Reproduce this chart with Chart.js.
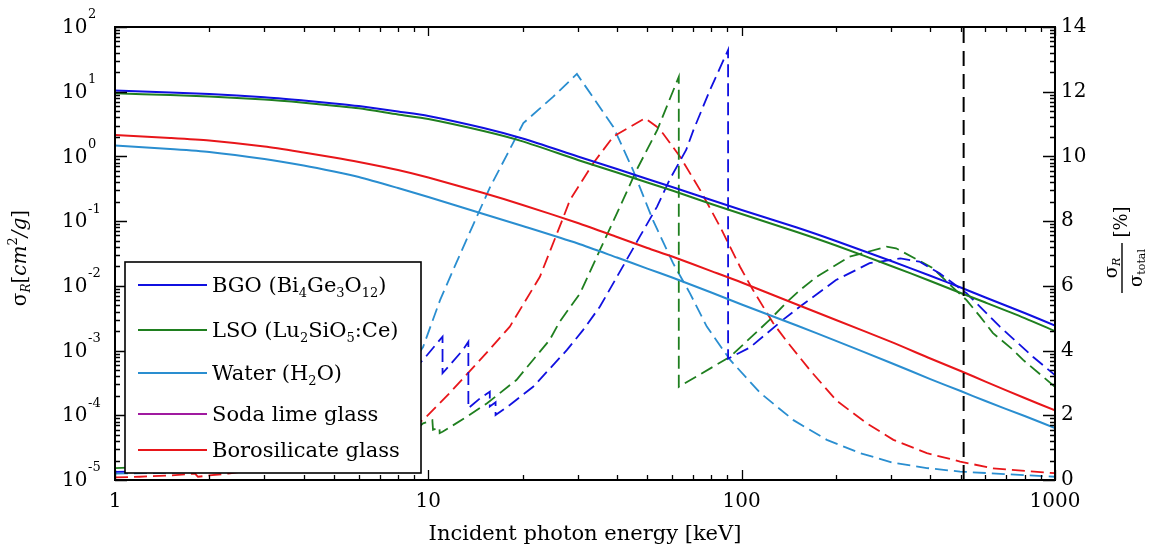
<!DOCTYPE html>
<html>
<head>
<meta charset="utf-8">
<script src="https://cdn.jsdelivr.net/npm/chart.js@4.4.1/dist/chart.umd.min.js"></script>
<style>
    html, body { margin: 0; padding: 0; background: #fff; }
</style>
</head>
<body>
<canvas id="rayleighChart" width="1157" height="549"></canvas>
<script>
const FONT = 'DejaVu Serif';

// Rayleigh cross section sigma_R [cm^2/g] on a common energy grid [keV]
const energyKeV = [1, 1.5, 2, 3, 4, 5, 6, 8, 10, 15, 20, 30, 40, 50, 60, 80, 100, 150, 200, 300, 400, 500, 600, 800, 1000];
const bgoSigma = [10.4, 9.7, 9.2, 8.2, 7.3, 6.6, 6.0, 4.94, 4.22, 2.75, 1.89, 1.0, 0.64, 0.448, 0.337, 0.212, 0.149, 0.0796, 0.0493, 0.0242, 0.0143, 0.00942, 0.0066, 0.0038, 0.00244];
const lsoSigma = [9.45, 8.9, 8.43, 7.58, 6.77, 6.08, 5.54, 4.45, 3.79, 2.47, 1.71, 0.881, 0.564, 0.395, 0.297, 0.184, 0.129, 0.0679, 0.042, 0.0203, 0.0119, 0.00775, 0.00552, 0.00318, 0.0020];
const waterSigma = [1.47, 1.30, 1.17, 0.912, 0.724, 0.585, 0.481, 0.325, 0.236, 0.129, 0.0841, 0.0451, 0.0274, 0.0185, 0.01345, 0.00789, 0.00515, 0.00244, 0.00141, 0.000643, 0.000363, 0.000237, 0.000166, 0.0000973, 0.0000636];
const boroSigma = [2.14, 1.93, 1.76, 1.42, 1.15, 0.962, 0.82, 0.617, 0.472, 0.272, 0.178, 0.0935, 0.0569, 0.0385, 0.0284, 0.0169, 0.01126, 0.00515, 0.00297, 0.00136, 0.000754, 0.000483, 0.000332, 0.000185, 0.000119];

// sigma_R / sigma_total [%], each with its own energies (absorption edges listed twice)
const bgoFracKeV = [1, 1.5, 2, 3, 4, 5, 6, 8, 9.62, 11.1, 11.1, 12.9, 13.42, 13.42, 14.6, 15.71, 15.71, 16.39, 16.39, 18.2, 21.6, 27.7, 31.2, 35.3, 40, 47.3, 53.7, 58.8, 66.5, 70.2, 79.2, 90.5, 90.5, 106.5, 135, 153.6, 200, 256, 321, 369, 428, 522, 667, 850, 1000];
const bgoFracPct = [0.25, 0.3, 0.45, 0.8, 1.2, 1.7, 2.2, 3.0, 3.71, 4.43, 3.30, 4.02, 4.27, 2.22, 2.52, 2.73, 2.27, 2.40, 2.01, 2.32, 2.88, 4.02, 4.64, 5.36, 6.28, 7.52, 8.45, 9.27, 10.20, 10.82, 12.05, 13.29, 3.75, 4.10, 4.94, 5.36, 6.18, 6.70, 6.85, 6.75, 6.39, 5.77, 4.74, 3.81, 3.24];

const lsoFracKeV = [1, 2, 3, 4, 5, 6, 8, 9.2, 9.24, 9.62, 10.3, 10.35, 10.85, 10.87, 11.1, 13.3, 15.4, 19.1, 24.4, 26.2, 30.5, 35.3, 40.9, 46.2, 53.8, 63.0, 63.0, 91.9, 122.5, 141.6, 153.6, 173.5, 221, 290, 311, 407, 470, 522, 577, 634, 735, 791, 1000];
const lsoFracPct = [0.37, 0.45, 0.7, 1.0, 1.3, 1.55, 1.9, 2.1, 1.6, 1.75, 1.85, 1.55, 1.62, 1.45, 1.49, 1.96, 2.37, 3.09, 4.33, 4.88, 5.77, 7.11, 8.45, 9.58, 10.82, 12.46, 2.88, 3.81, 4.94, 5.56, 5.87, 6.28, 6.90, 7.21, 7.16, 6.55, 5.97, 5.56, 5.05, 4.54, 4.02, 3.71, 2.88];

const waterFracKeV = [1, 1.5, 2, 3, 4, 5, 6, 8, 9.62, 10.9, 12.32, 13.89, 15.74, 17.8, 20.1, 25.0, 29.8, 38.9, 45.0, 52.1, 60.4, 68.4, 77.4, 91.9, 114.6, 146.3, 187, 239, 305, 390, 498, 1000];
const waterFracPct = [0.2, 0.22, 0.3, 0.55, 0.9, 1.35, 1.85, 3.0, 4.11, 5.56, 6.74, 7.88, 9.05, 10.04, 11.03, 11.84, 12.55, 10.92, 9.58, 8.03, 6.70, 5.77, 4.74, 3.71, 2.69, 1.85, 1.24, 0.83, 0.53, 0.37, 0.26, 0.10];

const boroFracKeV = [1, 1.2, 1.5, 1.8, 1.84, 2, 2.3, 3, 4, 5, 6, 8, 9.62, 11.7, 14.95, 18.2, 22.7, 26.9, 28.3, 33.6, 38.9, 49.2, 53.6, 56.1, 63.6, 73.7, 85.3, 98.8, 108.7, 126, 139, 165, 201, 251, 305, 390, 498, 634, 1000];
const boroFracPct = [0.08, 0.1, 0.14, 0.2, 0.1, 0.14, 0.2, 0.35, 0.6, 0.85, 1.1, 1.5, 1.85, 2.69, 3.81, 4.74, 6.28, 8.09, 8.65, 9.79, 10.61, 11.18, 10.92, 10.71, 9.99, 8.96, 7.83, 6.59, 5.87, 4.85, 4.3, 3.4, 2.45, 1.75, 1.24, 0.83, 0.57, 0.36, 0.21];

// 511 keV annihilation line
const annihilationKeV = [511, 511];
const annihilationPct = [0, 14];

const xTicks = [1, 10, 100, 1000];
const yLeftPowers = [-5, -4, -3, -2, -1, 0, 1, 2];
const yRightTicks = [0, 2, 4, 6, 8, 10, 12, 14];

const colors = {
    bgo: '#1010e0',
    lso: '#1f7f1f',
    water: '#2a8ed0',
    soda: '#a01aa0',
    boro: '#e8161a',
};

// legend rows: [text, subscript?] pieces
const legendRows = [
    { color: colors.bgo, parts: [['BGO (Bi', 0], ['4', 1], ['Ge', 0], ['3', 1], ['O', 0], ['12', 1], [')', 0]] },
    { color: colors.lso, parts: [['LSO (Lu', 0], ['2', 1], ['SiO', 0], ['5', 1], [':Ce)', 0]] },
    { color: colors.water, parts: [['Water (H', 0], ['2', 1], ['O)', 0]] },
    { color: colors.soda, parts: [['Soda lime glass', 0]] },
    { color: colors.boro, parts: [['Borosilicate glass', 0]] },
];

const pts = (xs, ys) => xs.map((x, i) => ({ x: x, y: ys[i] }));

function solidLine(label, ys, color) {
    return {
        label: label,
        data: pts(energyKeV, ys),
        yAxisID: 'y',
        borderColor: color,
        borderWidth: 2,
        pointRadius: 0,
        tension: 0.25,
        fill: false,
    };
}

function dashedLine(label, xs, ys, color) {
    return {
        label: label,
        data: pts(xs, ys),
        yAxisID: 'y2',
        borderColor: color,
        borderWidth: 1.8,
        borderDash: [13, 6],
        pointRadius: 0,
        tension: 0,
        fill: false,
    };
}

function logMinors(lo, hi) {
    const out = [];
    for (let p = lo; p < hi; p++) {
        for (let m = 2; m <= 9; m++) out.push(m * Math.pow(10, p));
    }
    return out;
}

function drawPieces(ctx, pieces, x, y) {
    // pieces: {t, size, italic, dy}
    let cx = x;
    pieces.forEach(p => {
        ctx.font = (p.italic ? 'italic ' : '') + p.size + 'px ' + FONT;
        ctx.fillText(p.t, cx, y + (p.dy || 0));
        cx += ctx.measureText(p.t).width;
    });
    return cx - x;
}

function piecesWidth(ctx, pieces) {
    let w = 0;
    pieces.forEach(p => {
        ctx.font = (p.italic ? 'italic ' : '') + p.size + 'px ' + FONT;
        w += ctx.measureText(p.t).width;
    });
    return w;
}

const plotDecor = {
    id: 'plotDecor',
    afterDraw(chart) {
        const { ctx, chartArea: a, scales } = chart;
        ctx.save();
        ctx.strokeStyle = '#000';
        ctx.fillStyle = '#000';

        // inward ticks on all four sides
        ctx.lineWidth = 1.3;
        ctx.beginPath();
        xTicks.forEach(v => {
            const px = Math.round(scales.x.getPixelForValue(v)) + 0.5;
            ctx.moveTo(px, a.bottom); ctx.lineTo(px, a.bottom - 10);
            ctx.moveTo(px, a.top); ctx.lineTo(px, a.top + 9);
        });
        logMinors(0, 3).forEach(v => {
            const px = Math.round(scales.x.getPixelForValue(v)) + 0.5;
            ctx.moveTo(px, a.bottom); ctx.lineTo(px, a.bottom - 5);
            ctx.moveTo(px, a.top); ctx.lineTo(px, a.top + 5);
        });
        yLeftPowers.forEach(p => {
            const py = Math.round(scales.y.getPixelForValue(Math.pow(10, p))) + 0.5;
            ctx.moveTo(a.left, py); ctx.lineTo(a.left + 12, py);
            ctx.moveTo(a.right, py); ctx.lineTo(a.right - 12, py);
        });
        logMinors(-5, 2).forEach(v => {
            const py = Math.round(scales.y.getPixelForValue(v)) + 0.5;
            ctx.moveTo(a.left, py); ctx.lineTo(a.left + 5, py);
            ctx.moveTo(a.right, py); ctx.lineTo(a.right - 5, py);
        });
        ctx.stroke();

        // frame
        ctx.lineWidth = 2;
        ctx.strokeRect(a.left, a.top, a.right - a.left, a.bottom - a.top);

        // left tick labels 10^n
        ctx.textAlign = 'left';
        ctx.textBaseline = 'middle';
        yLeftPowers.forEach(p => {
            const py = scales.y.getPixelForValue(Math.pow(10, p));
            ctx.font = '20px ' + FONT;
            ctx.fillText('10', 62, py + 1);
            ctx.font = '13px ' + FONT;
            ctx.fillText(String(p), 88, py - 12);
        });

        // left axis title
        ctx.save();
        ctx.translate(26, 258);
        ctx.rotate(-Math.PI / 2);
        ctx.textBaseline = 'alphabetic';
        const leftTitle = [
            { t: 'σ', size: 20 },
            { t: 'R', size: 12, italic: true, dy: 4 },
            { t: '[', size: 20 },
            { t: 'cm', size: 20, italic: true },
            { t: '2', size: 13, dy: -9 },
            { t: '/g', size: 20, italic: true },
            { t: ']', size: 20 },
        ];
        drawPieces(ctx, leftTitle, -piecesWidth(ctx, leftTitle) / 2, 0);
        ctx.restore();

        // right axis title: fraction sigma_R / sigma_total [%]
        ctx.save();
        ctx.translate(1122, 268);
        ctx.rotate(-Math.PI / 2);
        ctx.lineWidth = 1.4;
        ctx.beginPath();
        ctx.moveTo(-25, 0); ctx.lineTo(25, 0);
        ctx.stroke();
        ctx.textBaseline = 'alphabetic';
        const numer = [{ t: 'σ', size: 18 }, { t: 'R', size: 11, italic: true, dy: 3 }];
        drawPieces(ctx, numer, -piecesWidth(ctx, numer) / 2, -5);
        const denom = [{ t: 'σ', size: 18 }, { t: 'total', size: 11, dy: 3 }];
        drawPieces(ctx, denom, -piecesWidth(ctx, denom) / 2, 20);
        ctx.font = '18px ' + FONT;
        ctx.textAlign = 'center';
        ctx.textBaseline = 'middle';
        ctx.fillText('[%]', 46, 0);
        ctx.restore();

        // legend box inside the plot
        const lg = { left: 125, top: 262, right: 421, bottom: 473 };
        const rowY = [285, 330, 373, 414, 450];
        ctx.fillStyle = '#fff';
        ctx.fillRect(lg.left, lg.top, lg.right - lg.left, lg.bottom - lg.top);
        ctx.strokeStyle = '#000';
        ctx.lineWidth = 1.6;
        ctx.strokeRect(lg.left, lg.top, lg.right - lg.left, lg.bottom - lg.top);
        ctx.textAlign = 'left';
        ctx.textBaseline = 'alphabetic';
        legendRows.forEach((row, i) => {
            const y = rowY[i];
            ctx.strokeStyle = row.color;
            ctx.lineWidth = 2;
            ctx.beginPath();
            ctx.moveTo(138, y); ctx.lineTo(207, y);
            ctx.stroke();
            ctx.fillStyle = '#000';
            const pieces = row.parts.map(p => p[1]
                ? { t: p[0], size: 13, dy: 5 }
                : { t: p[0], size: 21 });
            drawPieces(ctx, pieces, 212, y + 7);
        });
        ctx.restore();
    }
};

const ctx = document.getElementById('rayleighChart').getContext('2d');
const rayleighChart = new Chart(ctx, {
    type: 'line',
    data: {
        datasets: [
            {
                label: '511 keV',
                data: pts(annihilationKeV, annihilationPct),
                yAxisID: 'y2',
                borderColor: '#000',
                borderWidth: 2,
                borderDash: [15, 8],
                pointRadius: 0,
                fill: false,
            },
            solidLine('BGO (Bi4Ge3O12)', bgoSigma, colors.bgo),
            solidLine('LSO (Lu2SiO5:Ce)', lsoSigma, colors.lso),
            solidLine('Borosilicate glass', boroSigma, colors.boro),
            solidLine('Water (H2O)', waterSigma, colors.water),
            dashedLine('BGO fraction', bgoFracKeV, bgoFracPct, colors.bgo),
            dashedLine('LSO fraction', lsoFracKeV, lsoFracPct, colors.lso),
            dashedLine('Borosilicate fraction', boroFracKeV, boroFracPct, colors.boro),
            dashedLine('Water fraction', waterFracKeV, waterFracPct, colors.water),
        ]
    },
    options: {
        responsive: false,
        animation: false,
        layout: { padding: { top: 27, left: 0, right: 0, bottom: 0 } },
        plugins: {
            legend: { display: false },
            tooltip: { enabled: false },
        },
        scales: {
            x: {
                type: 'logarithmic',
                min: 1,
                max: 1000,
                afterBuildTicks: (axis) => { axis.ticks = xTicks.map(v => ({ value: v })); },
                afterFit: (axis) => { axis.height = 69; },
                ticks: {
                    callback: (v) => String(v),
                    autoSkip: false,
                    maxRotation: 0,
                    padding: 10,
                    color: '#000',
                    font: { family: FONT, size: 20 },
                },
                grid: { display: false, drawTicks: false },
                border: { display: false },
                title: {
                    display: true,
                    text: 'Incident photon energy [keV]',
                    color: '#000',
                    font: { family: FONT, size: 21 },
                    padding: { top: 0, bottom: 2 },
                },
            },
            y: {
                type: 'logarithmic',
                position: 'left',
                min: 1e-5,
                max: 100,
                afterFit: (axis) => { axis.width = 115; },
                ticks: { display: false },
                grid: { display: false, drawTicks: false },
                border: { display: false },
            },
            y2: {
                type: 'linear',
                position: 'right',
                min: 0,
                max: 14,
                afterBuildTicks: (axis) => { axis.ticks = yRightTicks.map(v => ({ value: v })); },
                afterFit: (axis) => { axis.width = 102; },
                ticks: {
                    callback: (v) => String(v),
                    padding: 6,
                    color: '#000',
                    font: { family: FONT, size: 20 },
                },
                grid: { display: false, drawTicks: false },
                border: { display: false },
            },
        },
    },
    plugins: [plotDecor],
});
</script>
</body>
</html>
